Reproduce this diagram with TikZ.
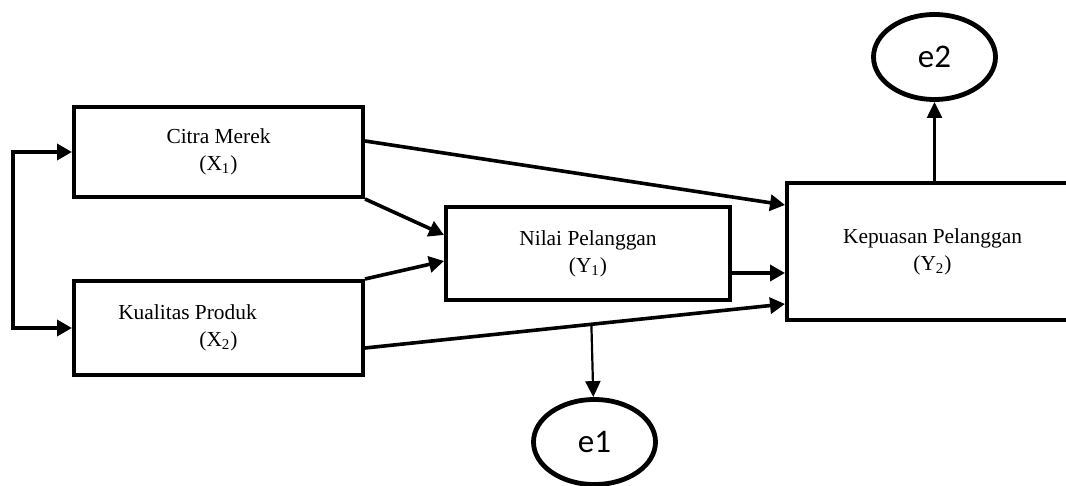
\documentclass[tikz,border=0pt]{standalone}
\usepackage{fontspec}
\setmainfont{Liberation Serif}
\newfontfamily\errfont{Carlito}
\usetikzlibrary{arrows.meta,shapes.geometric}
\tikzset{
  var/.style={draw, line width=2pt, inner sep=0pt, align=center,
    font=\fontsize{10.7}{13.5}\selectfont},
  err/.style={draw, ellipse, line width=2.4pt, inner sep=0pt,
    minimum width=61pt, minimum height=42.5pt, font=\errfont\fontsize{16.5}{18}\selectfont},
  lnk/.style={line width=1.8pt, -{Triangle[length=7.5pt,width=8pt]}},
  errlnk/.style={line width=1.1pt, -{Triangle[length=8pt,width=7.5pt]}}
}
\begin{document}
\begin{tikzpicture}[x=0.5pt, y=-0.5pt]
    \useasboundingbox (0,0) rectangle (1066,486);
    % variables
    \node[var, minimum width=144.5pt, minimum height=45pt] (X1) at (218.5,152) {Citra Merek\\(X\textsubscript{1})};
    \node[var, minimum width=144.5pt, minimum height=47pt] (X2) at (218.5,328) {Kualitas Produk\hspace*{31pt}\\(X\textsubscript{2})};
    \node[var, minimum width=142pt, minimum height=46.5pt] (Y1) at (588,253.5) {Nilai Pelanggan\\(Y\textsubscript{1})};
    \node[var, minimum width=145.5pt, minimum height=68.5pt] (Y2) at (932.5,251.5) {Kepuasan Pelanggan\\(Y\textsubscript{2})}; % right side runs off the page
    \node[err] (e2) at (934.5,57) {e2};
    \node[err] (e1) at (594.5,442) {e1};
    % correlation bracket
    \coordinate (corr) at (13,243);
    \foreach \v in {X1,X2} \draw[lnk] (corr) |- (\v.west);
    % paths
    \coordinate (y1out) at ([yshift=-9.75pt]Y1.east);
    \draw[lnk] ([yshift=5.5pt]X1.east) -- ([yshift=-12pt]Y2.north west);
    \draw[lnk] (X1.south east) -- ([yshift=9.25pt]Y1.west);
    \draw[lnk] (X2.north east) -- ([yshift=-3.75pt]Y1.west);
    \draw[lnk] (y1out) -- (y1out -| Y2.west);
    \draw[lnk] ([yshift=-10pt]X2.east) -- coordinate[pos=0.539] (e1src) ([yshift=9pt]Y2.south west);
    % errors
    \draw[errlnk] (e1src) -- (e1);
    \draw[errlnk] (e2.south |- Y2.north) -- (e2.south);
\end{tikzpicture}
\end{document}
